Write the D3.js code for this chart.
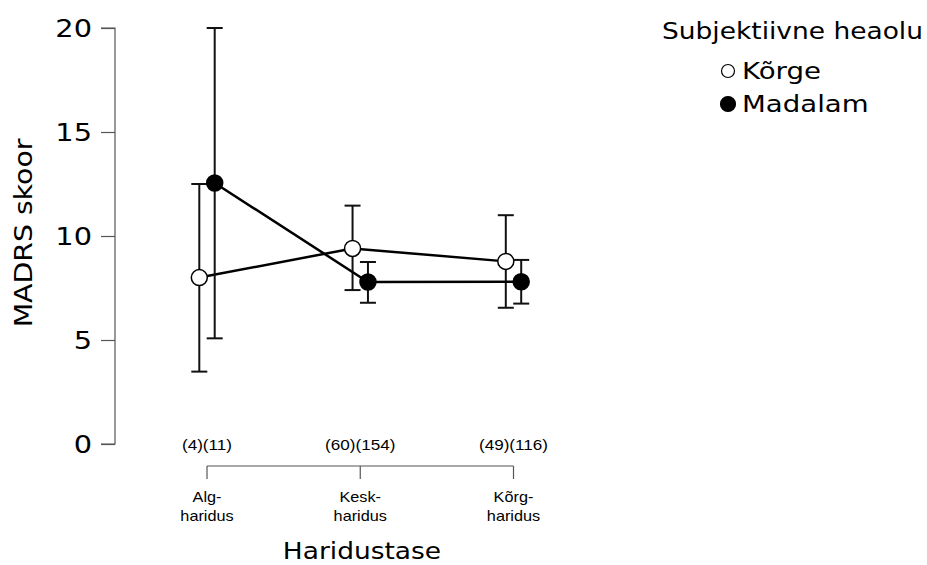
<!DOCTYPE html>
<html>
<head>
<meta charset="utf-8">
<script src="https://cdn.jsdelivr.net/npm/d3@7"></script>
<style>
  body { margin: 0; background: #fff; }
  svg { display: block; }
</style>
</head>
<body>
<div id="chart"></div>
<script>
// Education level categories and group sizes (Kõrge, Madalam)
const categories = ["Alg-|haridus", "Kesk-|haridus", "Kõrg-|haridus"];
const counts = ["(4)(11)", "(60)(154)", "(49)(116)"];
const groups = ["Kõrge", "Madalam"];

// Mean MADRS score with CI bounds per group
const korgeMean = [8.0, 9.4, 8.78];
const korgeLow  = [3.48, 7.4, 6.55];
const korgeHigh = [12.5, 11.46, 11.0];
const madalamMean = [12.55, 7.79, 7.8];
const madalamLow  = [5.08, 6.79, 6.75];
const madalamHigh = [20.0, 8.75, 8.85];
const yTicks = [0, 5, 10, 15, 20];

const W = 927, H = 565;
const svg = d3.select("#chart").append("svg").attr("width", W).attr("height", H);
const font = "'DejaVu Sans', sans-serif";
const arial = "'Liberation Sans', Arial, sans-serif";

// Widen text horizontally by factor k (glyphs are stretched, not re-spaced)
function widen(sel, k) {
  sel.each(function () {
    const w = this.getComputedTextLength();
    d3.select(this).attr("textLength", w * k).attr("lengthAdjust", "spacingAndGlyphs");
  });
}

const y = d3.scaleLinear().domain([0, 20]).range([444, 28]);
const x = d3.scalePoint().domain(d3.range(categories.length)).range([207, 513.5]);
const dodge = d3.scalePoint().domain(groups).range([-7.7, 7.7]);

// Y axis
const yAxis = d3.axisLeft(y).tickValues(yTicks).tickSize(14).tickPadding(9);
const gy = svg.append("g").attr("transform", "translate(115,0)").call(yAxis);
gy.select(".domain").attr("stroke", "#555").attr("stroke-width", 1.2).attr("d", `M-14,${y(20)}H0V${y(0)}H-14`);
gy.selectAll(".tick line").attr("stroke", "#555").attr("stroke-width", 1.2);
gy.selectAll(".tick text").attr("font-family", font).attr("font-size", 24).attr("fill", "#000").attr("dy", "0.36em");
widen(gy.selectAll(".tick text"), 1.2);

widen(svg.append("text")
  .attr("transform", "translate(32,233) rotate(-90)")
  .attr("text-anchor", "middle")
  .attr("font-family", font).attr("font-size", 24)
  .text("MADRS skoor"), 1.18);

// X axis (bracket style)
const axisY = 466;
const gx = svg.append("g");
gx.append("line").attr("x1", x(0)).attr("x2", x(2)).attr("y1", axisY).attr("y2", axisY)
  .attr("stroke", "#555").attr("stroke-width", 1.2);
categories.forEach((c, i) => {
  gx.append("line").attr("x1", x(i)).attr("x2", x(i)).attr("y1", axisY).attr("y2", axisY + 13)
    .attr("stroke", "#555").attr("stroke-width", 1.2);
  const parts = c.split("|");
  parts.forEach((p, j) => {
    widen(gx.append("text").attr("x", x(i)).attr("y", 502 + j * 19)
      .attr("text-anchor", "middle").attr("font-family", arial)
      .attr("font-size", 14.5).text(p), 1.12);
  });
  widen(gx.append("text").attr("x", x(i)).attr("y", 450)
    .attr("text-anchor", "middle").attr("font-family", arial)
    .attr("font-size", 14.5).text(counts[i]), 1.18);
});

widen(svg.append("text").attr("x", 362).attr("y", 559)
  .attr("text-anchor", "middle").attr("font-family", font).attr("font-size", 23)
  .text("Haridustase"), 1.15);

// Series
const series = [
  { name: "Kõrge", mean: korgeMean, lo: korgeLow, hi: korgeHigh, fill: "#fff" },
  { name: "Madalam", mean: madalamMean, lo: madalamLow, hi: madalamHigh, fill: "#000" }
];

const line = d3.line().x(d => d[0]).y(d => d[1]);
const cap = 8;

series.forEach(s => {
  const pts = s.mean.map((m, i) => [x(i) + dodge(s.name), y(m)]);
  const g = svg.append("g");
  // error bars with caps
  s.mean.forEach((m, i) => {
    const cx = x(i) + dodge(s.name);
    g.append("line").attr("x1", cx).attr("x2", cx).attr("y1", y(s.lo[i])).attr("y2", y(s.hi[i]))
      .attr("stroke", "#111").attr("stroke-width", 2);
    [s.lo[i], s.hi[i]].forEach(v => {
      g.append("line").attr("x1", cx - cap).attr("x2", cx + cap).attr("y1", y(v)).attr("y2", y(v))
        .attr("stroke", "#111").attr("stroke-width", 2);
    });
  });
  s.pts = pts;
  s.g = g;
});

series.forEach(s => {
  s.g.append("path").attr("d", line(s.pts)).attr("fill", "none")
    .attr("stroke", "#000").attr("stroke-width", 2.5);
});
series.forEach(s => {
  s.g.selectAll("circle").data(s.pts).join("circle")
    .attr("cx", d => d[0]).attr("cy", d => d[1]).attr("r", 8)
    .attr("fill", s.fill).attr("stroke", "#000").attr("stroke-width", 1.5);
});

// Legend
const lg = svg.append("g");
widen(lg.append("text").attr("x", 662).attr("y", 39).attr("font-family", font).attr("font-size", 23)
  .text("Subjektiivne heaolu"), 1.15);
series.forEach((s, i) => {
  const ly = 71 + i * 33;
  lg.append("circle").attr("cx", 728).attr("cy", ly).attr("r", i === 0 ? 6.5 : 7.5)
    .attr("fill", s.fill).attr("stroke", "#000").attr("stroke-width", 1.2);
  widen(lg.append("text").attr("x", 742).attr("y", ly).attr("dy", "0.36em")
    .attr("font-family", font).attr("font-size", 23).text(s.name), 1.2);
});
</script>
</body>
</html>
